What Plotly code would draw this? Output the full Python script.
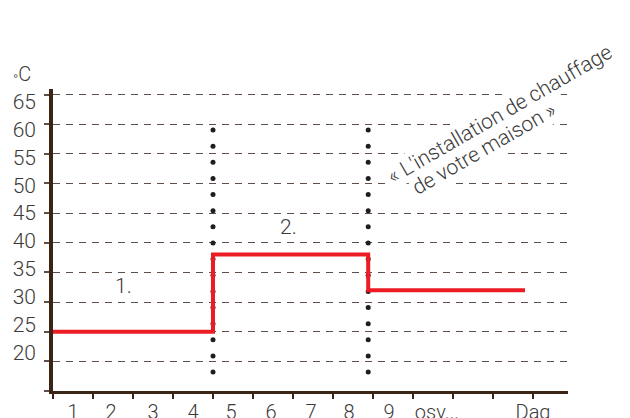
import numpy as np
import plotly.graph_objects as go

# ---- data ----
step_x = [0, 4, 4, 7.88, 7.88, 11.8]
step_y = [25, 25, 38, 38, 32, 32]
divider_x = [4, 7.88]
divider_top = 59.0
divider_bottom = 18.2
divider_dots = 16
y_tick_vals = [15, 20, 25, 30, 35, 40, 45, 50, 55, 60, 65]
y_label_vals = [20, 25, 30, 35, 40, 45, 50, 55, 60, 65]
y_label_text = ["20", "25", "30", "35", "40", "45", "50", "55", "60", "65"]
x_tick_vals = list(range(13))
x_label_pos = [0.5, 1.45, 2.5, 3.5, 4.45, 5.45, 6.45, 7.4, 8.4, 9.6, 12]
x_label_text = ["1", "2", "3", "4", "5", "6", "7", "8", "9", "osv...", "Dag"]
phase_text = ["1.", "2."]
phase_x = [1.75, 5.875]
phase_y = [32.7, 42.6]
unit_text = "<sub>°</sub>C"
note_lines = ["« L'installation de chauffage", "de votre maison »"]

# ---- style ----
FONT = "Roboto"
TXT = "#3a3a3a"
AXIS = "#3b2415"
GRID = "#5e5048"
RED = "#ED1C24"

fig = go.Figure()

for dx in divider_x:
    fig.add_trace(go.Scatter(
        x=[dx] * divider_dots,
        y=np.linspace(divider_top, divider_bottom, divider_dots),
        mode="markers", marker=dict(size=5, color="#1e1e1e"),
        hoverinfo="skip", showlegend=False))

fig.add_trace(go.Scatter(
    x=step_x, y=step_y, mode="lines",
    line=dict(color=RED, width=4), showlegend=False))

# invisible trace for overlay label axes
fig.add_trace(go.Scatter(x=[None], y=[None], xaxis="x2", yaxis="y2",
                         showlegend=False, hoverinfo="skip"))

# page body adds an 8px offset, margins compensate for it
fig.update_layout(
    width=630, height=418,
    margin=dict(l=45, r=70, t=81, b=35),
    paper_bgcolor="white", plot_bgcolor="white",
    font=dict(family=FONT, color=TXT, size=19, weight=300),
    xaxis=dict(range=[0, 12.875], showline=True, linecolor=AXIS, linewidth=3,
               ticks="outside", ticklen=5, tickwidth=1.5, tickcolor=AXIS,
               tickvals=x_tick_vals, showticklabels=False, automargin=False,
               showgrid=False, zeroline=False, fixedrange=True),
    yaxis=dict(range=[15, 65.93], showline=True, linecolor=AXIS, linewidth=4,
               ticks="outside", ticklen=5, tickwidth=1.5, tickcolor=GRID,
               tickvals=y_tick_vals, showticklabels=False, automargin=False,
               showgrid=True, gridcolor=GRID, gridwidth=1.3, griddash="7px,6px",
               zeroline=False, fixedrange=True),
    xaxis2=dict(overlaying="x", anchor="y2", side="bottom", range=[0, 12.875],
                tickvals=x_label_pos, ticktext=x_label_text, ticks="",
                showline=False, showgrid=False, zeroline=False, automargin=False,
                ticklabelstandoff=7,
                tickfont=dict(family=FONT, size=20, color=TXT, weight=300)),
    yaxis2=dict(overlaying="y", anchor="x2", side="left", range=[13.12, 67.24],
                tickvals=y_label_vals, ticktext=y_label_text, ticks="",
                showline=False, showgrid=False, zeroline=False, automargin=False,
                ticklabelstandoff=16,
                tickfont=dict(family=FONT, size=21, color=TXT, weight=300)),
)

annotations = [
    dict(text=unit_text, xref="paper", yref="paper", x=-0.06, y=1.047,
         xanchor="center", yanchor="middle", showarrow=False,
         font=dict(size=20, color=TXT, family=FONT, weight=300)),
]
for t, px_, py_ in zip(phase_text, phase_x, phase_y):
    annotations.append(dict(text=t, x=px_, y=py_, xref="x", yref="y",
                            xanchor="center", yanchor="middle", showarrow=False,
                            font=dict(size=21, color=TXT, family=FONT, weight=300)))
note_pos = [(0.868, 0.917), (0.836, 0.802)]
for t, (ax_, ay_) in zip(note_lines, note_pos):
    annotations.append(dict(text=t, xref="paper", yref="paper", x=ax_, y=ay_,
                            xanchor="center", yanchor="middle",
                            textangle=-30, showarrow=False, bgcolor="white",
                            borderpad=1,
                            font=dict(size=21, color=TXT, family=FONT, weight=300)))
fig.update_layout(annotations=annotations)

fig.write_html("out.html")
